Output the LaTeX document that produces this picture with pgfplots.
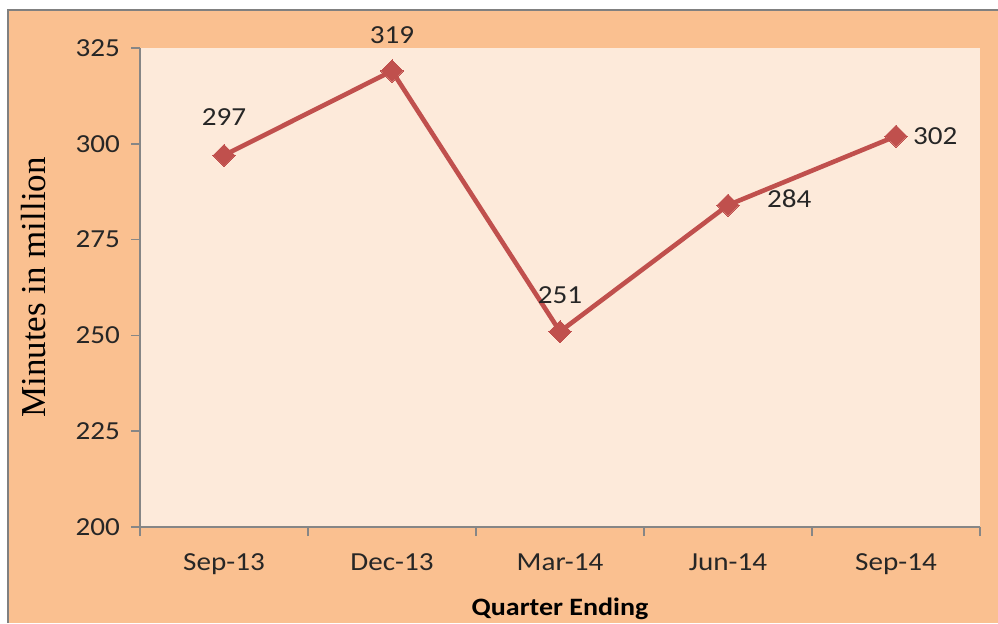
\documentclass[border=0pt]{standalone}
\usepackage{fontspec}
\setmainfont{Carlito}[FakeStretch=1.12]
\newfontfamily\serifaxis{Liberation Serif}
\usepackage{pgfplots}
\pgfplotsset{compat=1.18}
\usetikzlibrary{calc,backgrounds}
\definecolor{outerbg}{HTML}{FAC090}
\definecolor{innerbg}{HTML}{FDEADA}
\definecolor{linered}{HTML}{C0504D}
\definecolor{axisgray}{HTML}{868686}

\begin{document}
\begin{tikzpicture}
\begin{axis}[
    name=ax,
    scale only axis,
    width=420pt, height=239.5pt,
    xmin=0.5, xmax=5.5,
    ymin=200, ymax=325,
    ytick={200,225,...,325},
    xtick={0.5,1.5,...,5.5},
    xticklabels={},
    extra x ticks={1,2,3,4,5},
    extra x tick labels={Sep-13,Dec-13,Mar-14,Jun-14,Sep-14},
    extra x tick style={major tick length=0pt},
    axis x line*=bottom,
    axis y line*=left,
    axis line style={axisgray, line width=0.8pt, -},
    tick style={axisgray, line width=0.8pt},
    tick align=outside,
    major tick length=4.5pt,
    axis background/.style={fill=innerbg},
    /pgf/number format/assume math mode=true,
    ticklabel style={font=\fontsize{13}{15}\selectfont, text=black!85},
    xticklabel style={yshift=-10pt},
    yticklabel style={xshift=-2pt},
    ylabel={\serifaxis Minutes in million},
    ylabel style={font=\fontsize{17.5}{20}\selectfont},
    ylabel shift=8pt,
    xlabel={\bfseries Quarter Ending},
    xlabel style={font=\fontsize{12.5}{14}\selectfont},
    clip=false,
]
\addplot[linered, line width=2.3pt, mark=square*, mark size=3.9pt,
         mark options={fill=linered, draw=linered, line width=0pt, rotate=45}]
    coordinates {(1,297) (2,319) (3,251) (4,284) (5,302)};
\node[font=\fontsize{13}{15}\selectfont, text=black!85] at (axis cs:1,297) [yshift=19pt] {297};
\node[font=\fontsize{13}{15}\selectfont, text=black!85] at (axis cs:2,319) [yshift=18pt] {319};
\node[font=\fontsize{13}{15}\selectfont, text=black!85] at (axis cs:3,251) [yshift=18pt] {251};
\node[font=\fontsize{13}{15}\selectfont, text=black!85, anchor=west] at (axis cs:4,284) [xshift=16pt, yshift=3pt] {284};
\node[font=\fontsize{13}{15}\selectfont, text=black!85, anchor=west] at (axis cs:5,302) [xshift=5pt] {302};
\end{axis}
\begin{scope}[on background layer]
\fill[white] ($(ax.south west)+(-70pt,-48pt)$) rectangle ($(ax.north east)+(9pt,24pt)$);
\fill[outerbg] ($(ax.south west)+(-66pt,-48pt)$) rectangle ($(ax.north east)+(9pt,19pt)$);
\draw[gray, line width=1pt] ($(ax.south west)+(-66pt,-48pt)$) -- ($(ax.south west)+(-66pt,0pt)$) |- ($(ax.north east)+(9pt,19pt)$);
\end{scope}
\pgfresetboundingbox
\useasboundingbox ($(ax.south west)+(-70pt,-48pt)$) rectangle ($(ax.north east)+(9pt,24pt)$);
\end{tikzpicture}
\end{document}
